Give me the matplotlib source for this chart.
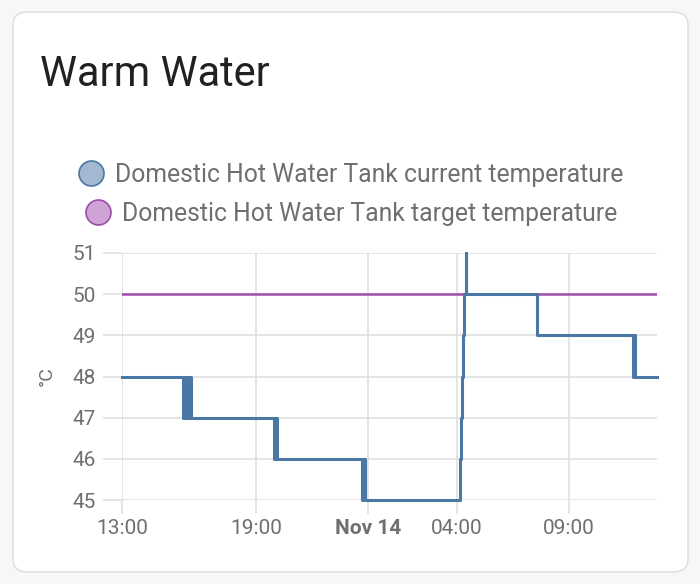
import matplotlib
matplotlib.use("Agg")
import matplotlib.pyplot as plt
from matplotlib.patches import FancyBboxPatch
from matplotlib.lines import Line2D

plt.rcParams['font.family'] = ['Roboto', 'DejaVu Sans']

# Hours since Nov 13, 13:00
current_t = [0.0, 2.72, 2.78, 2.84, 2.90, 2.96, 3.02, 3.08,
             6.80, 6.86, 6.92, 6.98,
             10.75, 10.81, 10.87,
             15.12, 15.17, 15.20, 15.25, 15.30, 15.38, 15.42,
             18.58,
             22.87, 22.92, 22.97,
             23.95]
current_v = [48, 47, 48, 47, 48, 47, 48, 47,
             46, 47, 46, 46,
             45, 46, 45,
             46, 47, 48, 49, 50, 51, 50,
             49,
             48, 49, 48,
             48]
target_t = [0.0, 23.95]
target_v = [50, 50]

tick_hours = [0, 6, 11, 15, 20]
tick_labels = ["13:00", "19:00", "Nov 14", "04:00", "09:00"]
y_ticks = [45, 46, 47, 48, 49, 50, 51]
series_names = ["Domestic Hot Water Tank current temperature",
                "Domestic Hot Water Tank target temperature"]

blue = "#4a77a4"
purple = "#9b4fa8"
grid = "#e0e0e0"
tick_col = "#6f6f6f"

fig = plt.figure(figsize=(7, 5.84), dpi=100)
fig.patch.set_facecolor("#f7f7f7")

card = FancyBboxPatch((13/700, 12/584), (688-13)/700, (572-12)/584,
                      boxstyle="round,pad=0,rounding_size=0.022",
                      transform=fig.transFigure, facecolor="white",
                      edgecolor="#e0e0e0", linewidth=1.2, zorder=-5)
fig.patches.append(card)

fig.text(40/700, 1-75/584, "Warm Water", fontsize=30, color="#212121",
         va="center", ha="left")

ax = fig.add_axes([122/700, 1-500/584, (657-122)/700, (500-253)/584])
ax.set_facecolor("none")
ax.step(target_t, target_v, where="post", color=purple, linewidth=1.8, zorder=3)
ax.step(current_t, current_v, where="post", color=blue, linewidth=2.2, zorder=4,
        clip_on=False)

ax.set_xlim(0, 23.95)
ax.set_ylim(45, 51)
ax.set_yticks(y_ticks)
ax.set_xticks(tick_hours)
ax.set_xticklabels(tick_labels)
for lbl in ax.get_xticklabels():
    if lbl.get_text() == "Nov 14":
        lbl.set_fontweight("bold")
ax.grid(True, color=grid, linewidth=1.2, zorder=0)
for s in ax.spines.values():
    s.set_visible(False)
ax.tick_params(axis="y", length=14, color=grid, width=1.2, labelsize=15,
               labelcolor=tick_col, pad=5)
ax.tick_params(axis="x", length=10, color=grid, width=1.2, labelsize=15,
               labelcolor=tick_col, pad=4)
ax.set_ylabel("°C", fontsize=14, color=tick_col, labelpad=12)

fills = ["#a3b9d1", "#cfa3d6"]
edges = [blue, purple]
row_y = [175, 214]
for name, fc, ec, ry in zip(series_names, fills, edges, row_y):
    h = Line2D([], [], marker="o", linestyle="none", markersize=18,
               markerfacecolor=fc, markeredgecolor=ec, markeredgewidth=1.2,
               label=name)
    leg = fig.legend(handles=[h], loc="center", bbox_to_anchor=(350/700, 1-ry/584),
                     frameon=False, fontsize=17.8, handletextpad=0.35,
                     handlelength=1.2, borderpad=0, borderaxespad=0)
    for t in leg.get_texts():
        t.set_color(tick_col)

fig.savefig("out.png", dpi=100, facecolor=fig.get_facecolor())
